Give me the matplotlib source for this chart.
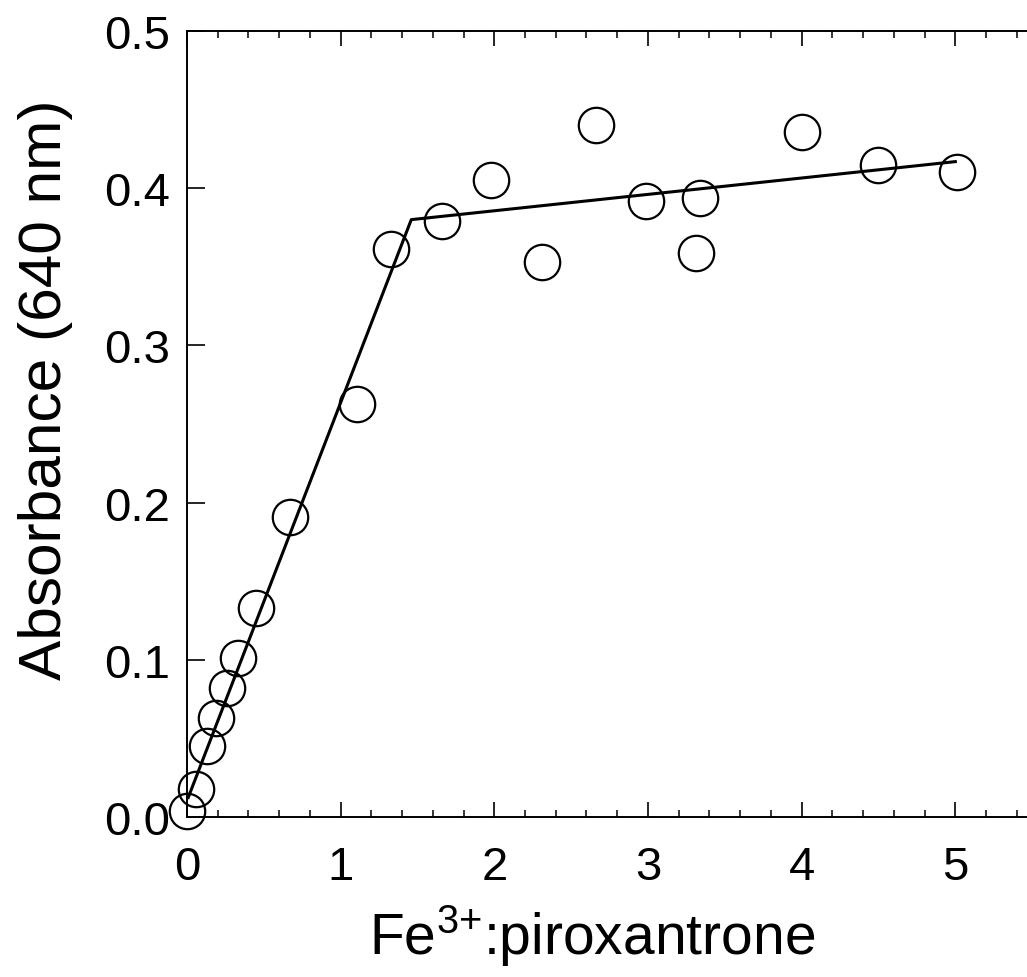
import matplotlib
matplotlib.use("Agg")
import matplotlib.pyplot as plt
from matplotlib.ticker import MultipleLocator

# Data
ratio = [0.00, 0.06, 0.13, 0.19, 0.26, 0.33, 0.45, 0.67, 1.11, 1.33,
         1.66, 1.98, 2.31, 2.66, 2.99, 3.34, 3.31, 4.00, 4.50, 5.01]
absorbance = [0.004, 0.018, 0.045, 0.063, 0.082, 0.101, 0.133, 0.191, 0.263, 0.361,
              0.379, 0.405, 0.353, 0.440, 0.392, 0.394, 0.359, 0.436, 0.415, 0.410]

fit_x = [0.005, 1.46, 5.01]
fit_y = [0.0115, 0.380, 0.417]

xticks = [0, 1, 2, 3, 4, 5]
yticks = [0.0, 0.1, 0.2, 0.3, 0.4, 0.5]
ytick_labels = ["0.0", "0.1", "0.2", "0.3", "0.4", "0.5"]

plt.rcParams['font.family'] = ['Liberation Sans', 'DejaVu Sans']
plt.rcParams['mathtext.fontset'] = 'custom'
plt.rcParams['mathtext.rm'] = 'Liberation Sans'
plt.rcParams['mathtext.it'] = 'Liberation Sans'
plt.rcParams['mathtext.bf'] = 'Liberation Sans:bold'

fig = plt.figure(figsize=(10.27, 9.78), dpi=100)
ax = fig.add_axes([0.182, 0.1636, 0.823, 0.8037])

ax.plot(fit_x, fit_y, color='black', lw=2.2, zorder=2, solid_capstyle='butt')
ax.plot(ratio, absorbance, linestyle='none', marker='o', markersize=25.5,
        markerfacecolor='none', markeredgecolor='black', markeredgewidth=1.6,
        zorder=3, clip_on=False)

ax.set_xlim(0, 5.5)
ax.set_ylim(0, 0.5)
ax.set_xticks(xticks)
ax.set_yticks(yticks)
ax.set_yticklabels(ytick_labels)
ax.xaxis.set_minor_locator(MultipleLocator(0.2))

ax.spines['right'].set_visible(False)
for s in ['left', 'bottom', 'top']:
    ax.spines[s].set_linewidth(1.4)

ax.tick_params(axis='x', which='major', direction='in', length=11, width=1.2,
               top=True, labelsize=34, pad=20)
ax.tick_params(axis='x', which='minor', direction='in', length=5, width=1.1, top=True)
ax.tick_params(axis='y', which='major', direction='in', length=13, width=1.2,
               right=False, labelsize=34, pad=12)

ax.set_xlabel(r"Fe$^{\mathrm{3{+}}}$:piroxantrone", fontsize=41)
ax.set_ylabel("Absorbance (640 nm)", fontsize=43.5)
ax.xaxis.set_label_coords((592 - 187) / (1032 - 187), -0.108)
ax.yaxis.set_label_coords(-0.135, (818 - 390) / (818 - 32))

fig.savefig("out.png", dpi=100)
